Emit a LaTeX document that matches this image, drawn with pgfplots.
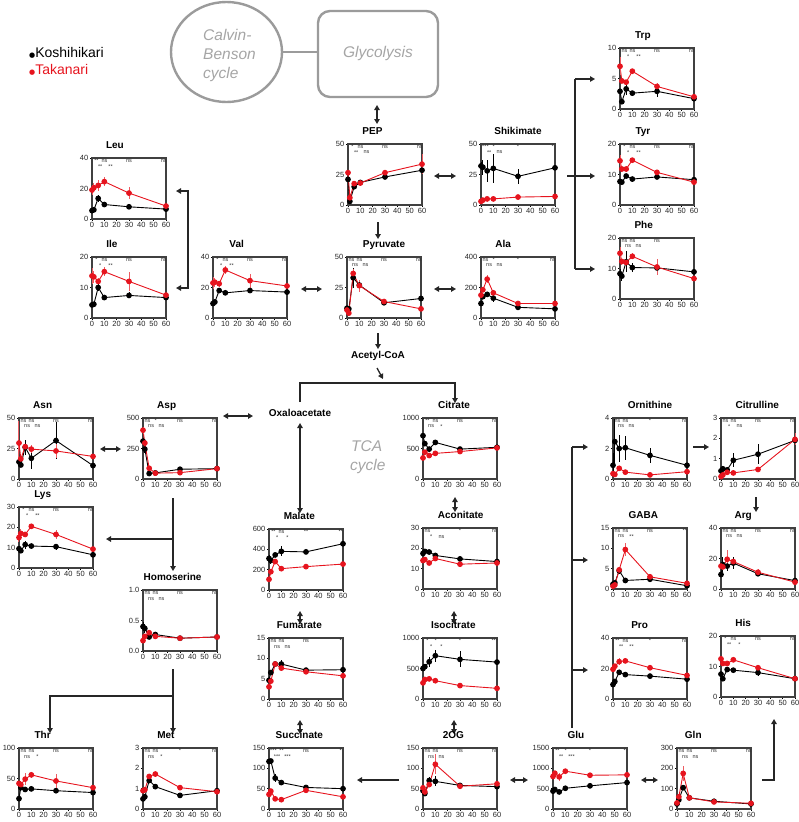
\documentclass[border=0pt]{standalone}
\usepackage{fontspec}
\setmainfont{Liberation Sans}
\newfontfamily\dejavu{DejaVu Sans}
\usepackage{pgfplots}
\usepackage{pgfplotstable}
\pgfplotsset{compat=1.18}
\usetikzlibrary{arrows.meta}

\definecolor{takared}{RGB}{230,20,30}
\definecolor{dgray}{RGB}{155,155,155}
\definecolor{tgray}{RGB}{165,165,165}

% time points (min): 0, 1.5, 5, 10, 30, 60 ; k = Koshihikari, r = Takanari
\pgfplotstableread{
t k ke r re
0 5.5 0.5 19 3
1.5 6 0.5 20.5 3
5 13.5 2.5 22 3.5
10 9.5 0.8 24.5 3
30 8 0.8 17 4
60 6.5 0.5 8.5 1
}\tLeu
\pgfplotstableread{
t k ke r re
0 4.3 0.3 13.8 2.5
1.5 4.5 0.3 13.5 2
5 10 1 12 1
10 6.7 0.4 15.2 1.5
30 7.4 1 12 3
60 6.7 0.4 7.5 0.6
}\tIle
\pgfplotstableread{
t k ke r re
0 9.5 0.5 23 4
1.5 10.5 0.5 23.5 3
5 18 1.5 22.5 2
10 16.5 0.5 31.5 2.5
30 18 1 24.5 4.5
60 17 0.5 21 1
}\tVal
\pgfplotstableread{
t k ke r re
0 21 1 26.5 1
1.5 3 1 6 1
5 15 2 17.5 1
10 18.5 1 18 1
30 23 1 26.5 1.5
60 28.5 1 33.5 8
}\tPEP
\pgfplotstableread{
t k ke r re
0 8 1 6.5 1
1.5 7.5 1 4 1
5 33 8 36.5 4
10 27 3 26.5 5
30 12.5 2 13.5 2
60 16 1 7.5 1
}\tPyr
\pgfplotstableread{
t k ke r re
0 32 3 3 0.5
1.5 31 6 4 0.5
5 28 9 5 0.5
10 30 12 5 0.5
30 23.5 6 6.5 0.5
60 30.5 1 7 0.5
}\tShi
\pgfplotstableread{
t k ke r re
0 2.9 0.2 7 1.5
1.5 1.2 0.3 4.6 0.3
5 3.3 1 4.4 0.3
10 2.6 0.2 6.2 0.3
30 2.9 1 3.7 0.6
60 1.7 0.2 2 0.2
}\tTrp
\pgfplotstableread{
t k ke r re
0 7.7 0.5 14.5 2
1.5 7.5 0.5 11.8 1
5 9.5 0.7 11.8 1
10 8.5 0.4 14.7 0.8
30 9.2 0.5 10.7 0.8
60 8.3 0.4 7.5 0.5
}\tTyr
\pgfplotstableread{
t k ke r re
0 8.3 1.5 15 2
1.5 7.5 1.5 12.3 1
5 12.2 3.5 12 1
10 10.3 1.5 14 1
30 10.2 1 10.5 2.5
60 8.9 0.5 6.7 0.4
}\tPhe
\pgfplotstableread{
t k ke r re
0 95 15 150 15
1.5 140 15 185 15
5 155 10 255 25
10 130 25 165 15
30 70 10 95 10
60 60 10 95 10
}\tAla
\pgfplotstableread{
t k ke r re
0 14 2 29.5 18
1.5 11.5 1 16.5 2
5 26 6 26.5 2
10 17 9 24.5 3
30 31.5 15 23 6
60 11 1 18.5 1
}\tAsn
\pgfplotstableread{
t k ke r re
0 310 30 400 30
1.5 245 30 295 30
5 45 5 88 5
10 50 5 48 5
30 80 5 52 5
60 85 5 85 5
}\tAsp
\pgfplotstableread{
t k ke r re
0 9.5 1 15 2
1.5 8.5 1 17 2
5 11.5 2 16.5 1
10 10.8 0.5 20.5 1.2
30 10.5 1.5 16.5 2
60 6.5 0.5 9.3 0.5
}\tLys
\pgfplotstableread{
t k ke r re
0 0.4 0.07 0.17 0.03
1.5 0.37 0.08 0.24 0.03
5 0.23 0.02 0.3 0.04
10 0.27 0.03 0.24 0.02
30 0.21 0.01 0.21 0.02
60 0.23 0.01 0.23 0.01
}\tHse
\pgfplotstableread{
t k ke r re
0 310 30 105 15
1.5 290 30 180 15
5 345 20 280 20
10 380 50 210 10
30 375 20 230 10
60 455 15 255 10
}\tMal
\pgfplotstableread{
t k ke r re
0 4.6 0.3 3 0.3
1.5 6.5 0.5 4.4 0.4
5 8.6 0.8 8.6 0.6
10 8.6 1 7.6 0.6
30 7.1 0.4 6.7 0.6
60 7.2 0.3 5.7 0.3
}\tFum
\pgfplotstableread{
t k ke r re
0 117 5 36 3
1.5 118 5 44 3
5 76 10 25 2
10 65 3 23 2
30 53 3 46 3
60 50 3 30 2
}\tSuc
\pgfplotstableread{
t k ke r re
0 710 40 345 30
1.5 580 40 440 30
5 490 30 385 30
10 600 30 420 20
30 490 30 450 20
60 520 20 510 30
}\tCit
\pgfplotstableread{
t k ke r re
0 17.5 1 14 1
1.5 18.5 1 14.5 1
5 18.2 1 12.8 0.5
10 16.5 0.8 15 1
30 14.8 0.5 12.2 0.5
60 13.5 0.5 12.8 0.5
}\tAco
\pgfplotstableread{
t k ke r re
0 500 20 265 30
1.5 530 20 320 30
5 610 80 330 30
10 710 100 300 30
30 650 130 220 20
60 605 20 175 20
}\tIso
\pgfplotstableread{
t k ke r re
0 45 5 52 5
1.5 38 5 42 5
5 70 8 60 5
10 68 12 110 25
30 58 5 56 5
60 55 3 62 5
}\tOG
\pgfplotstableread{
t k ke r re
0 440 30 800 50
1.5 480 30 880 50
5 420 30 790 100
10 510 20 930 50
30 570 20 830 40
60 650 20 840 30
}\tGlu
\pgfplotstableread{
t k ke r re
0 25 5 30 5
1.5 45 5 60 10
5 105 10 175 35
10 55 5 55 10
30 38 5 35 5
60 25 3 28 3
}\tGln
\pgfplotstableread{
t k ke r re
0 0.9 0.8 0.35 0.1
1.5 2.45 1.5 0.3 0.1
5 2 0.9 0.7 0.1
10 2.05 0.8 0.45 0.05
30 1.55 0.5 0.27 0.05
60 0.9 0.1 0.48 0.05
}\tOrn
\pgfplotstableread{
t k ke r re
0 0.4 0.1 0.12 0.05
1.5 0.5 0.1 0.2 0.05
5 0.45 0.1 0.33 0.05
10 0.92 0.35 0.3 0.05
30 1.22 0.5 0.47 0.05
60 1.9 0.1 1.95 0.3
}\tCtr
\pgfplotstableread{
t k ke r re
0 1.2 0.3 0.7 0.3
1.5 1.5 0.3 1 0.3
5 4.5 0.8 4.7 0.8
10 2.1 0.3 9.7 1.5
30 2.4 0.5 3 0.5
60 0.8 0.2 1.4 0.2
}\tGABA
\pgfplotstableread{
t k ke r re
0 9.5 1 15 2
1.5 16 5 14.5 2
5 15 3 19.5 6
10 17 4 18 2
30 10 1.5 11 2
60 5.5 0.5 4.5 0.5
}\tArg
\pgfplotstableread{
t k ke r re
0 9.5 0.5 19.5 1
1.5 11.5 0.5 21.5 1.5
5 17.5 1 24.5 2.5
10 16 0.5 25 1
30 15 0.5 20.5 1.5
60 13 0.5 15.5 0.5
}\tPro
\pgfplotstableread{
t k ke r re
0 7.5 0.5 12.5 1
1.5 6 0.5 11 0.5
5 9 0.7 11 0.5
10 8.8 0.3 12.2 0.8
30 8 1 9.6 0.8
60 6 0.3 6 0.3
}\tHis
\pgfplotstableread{
t k ke r re
0 17 2 42 4
1.5 35 3 40 6
5 32 3 49 10
10 33 4 56 5
30 30 2 46 12
60 27 2 35 2
}\tThr
\pgfplotstableread{
t k ke r re
0 0.5 0.05 0.9 0.05
1.5 0.6 0.05 0.95 0.05
5 1.4 0.1 1.6 0.1
10 1.1 0.1 1.72 0.1
30 0.67 0.05 1.05 0.05
60 0.9 0.05 0.85 0.05
}\tMet

\tikzset{sig/.style={font=\fontsize{5.5}{5.5}\selectfont, text=black!80, inner sep=0pt}}

\pgfplotsset{
  panel/.style={scale only axis, width=74pt, height=61pt, anchor=north west,
    xmin=0, xmax=60, ymin=0, xtick={0,10,...,60}, clip=false,
    axis line style={line width=1.2pt, black!75},
    tick align=outside, major tick length=2pt, tick style={black, line width=0.6pt},
    xtick pos=bottom, ytick pos=left,
    tick label style={font=\fontsize{7.5}{8}\selectfont, text=black!85},
    xticklabel style={inner sep=1.5pt}, yticklabel style={inner sep=1.5pt},
    scaled y ticks=false,
    /pgf/number format/assume math mode=true, /pgf/number format/1000 sep={},
    title style={font=\bfseries\fontsize{10}{12}\selectfont, anchor=base, inner sep=0pt, yshift=4pt}},
  kstyle/.style={black, line width=0.9pt, mark=*, mark size=2.4pt,
    error bars/.cd, y dir=both, y explicit, error mark=none, error bar style={line width=1pt}},
  tstyle/.style={takared, line width=0.9pt, mark=*, mark size=2.4pt,
    error bars/.cd, y dir=both, y explicit, error mark=none, error bar style={line width=1pt, takared!70}},
}

\newcommand{\sigs}[6]{%
  \node[sig] at (rel axis cs:0.06,0.95) {#1};
  \node[sig] at (rel axis cs:0.11,0.86) {#2};
  \node[sig] at (rel axis cs:0.17,0.95) {#3};
  \node[sig] at (rel axis cs:0.25,0.86) {#4};
  \node[sig] at (rel axis cs:0.5,0.95) {#5};
  \node[sig] at (rel axis cs:0.97,0.95) {#6};
}

% x, y of the axis box (px from top left), title, title position, options, table, significance
\newcommand{\panel}[7]{%
  \begin{axis}[panel, at={(#1pt,-#2pt)}, title={#3}, title style={at={(#4,1)}}, #5]
    \addplot[kstyle] table[x=t, y=k, y error=ke] {#6};
    \addplot[tstyle] table[x=t, y=r, y error=re] {#6};
    \sigs#7
  \end{axis}}

\begin{document}
\begin{tikzpicture}
\path[use as bounding box] (0,0) rectangle (798pt,-822pt);

\begin{scope}[x=1pt, y=-1pt, >={Triangle[length=5pt,width=5.5pt]},
  arr/.style={line width=1.3pt, black!85}]
  % legend
  \node[anchor=base west, inner sep=0pt, font=\fontsize{14}{16}\selectfont] at (29,57)
    {{\dejavu\fontsize{7}{8}\selectfont ●}Koshihikari};
  \node[anchor=base west, inner sep=0pt, font=\fontsize{14}{16}\selectfont, text=takared] at (29,74)
    {{\dejavu\fontsize{7}{8}\selectfont ●}Takanari};
  % Calvin-Benson cycle and glycolysis
  \draw[dgray, line width=2.4pt] (226.5,52) ellipse (55.5pt and 50pt);
  \draw[dgray, line width=2.4pt, rounded corners=12pt] (318,11) rectangle (438,97);
  \draw[dgray, line width=2.4pt] (282,52) -- (318,52);
  \begin{scope}[every node/.style={anchor=base west, inner sep=0pt, text=tgray, font=\itshape\fontsize{15.5}{18}\selectfont}]
    \node at (203,40) {Calvin-};
    \node at (203,59) {Benson};
    \node at (203,78) {cycle};
    \node[anchor=base] at (378,57) {Glycolysis};
    \node at (351,451) {TCA};
    \node at (350,470) {cycle};
  \end{scope}
  \node[font=\bfseries\fontsize{10}{12}\selectfont, inner sep=0pt] at (378,356) {Acetyl-CoA};
  \node[font=\bfseries\fontsize{10}{12}\selectfont, inner sep=0pt] at (300,413) {Oxaloacetate};
  % arrows
  \draw[arr,<->] (377,105) -- (377,124);
  \draw[arr,<->] (434,176) -- (456,176);
  \draw[arr,->] (567,176) -- (595,176);
  \draw[arr] (575,79) -- (575,269);
  \draw[arr,->] (575,79) -- (595,79);
  \draw[arr,->] (575,269) -- (595,269);
  \draw[arr,->] (378,222) -- (378,239);
  \draw[arr,<->] (434,289) -- (456,289);
  \draw[arr,<->] (301,289) -- (322,289);
  \draw[arr,->] (188,288) -- (188,191) -- (176,191);
  \draw[arr,->] (189,288) -- (176,288);
  \draw[arr,->] (378,333) -- (378,349);
  \draw[arr,->] (377,368) -- (383,379);
  \draw[arr,->] (300,402) -- (300,383) -- (455,383) -- (455,403);
  \draw[arr,<->] (223,416) -- (253,416);
  \draw[arr,<->] (300,423) -- (300,513);
  \draw[arr,<->] (100,449) -- (121,449);
  \draw[arr,->] (173,498) -- (173,571);
  \draw[arr,->] (173,539) -- (106,539);
  \draw[arr,<->] (455,497) -- (455,512);
  \draw[arr,<->] (300,611) -- (300,624);
  \draw[arr,<->] (454,611) -- (454,624);
  \draw[arr,<->] (300,720) -- (300,734);
  \draw[arr,<->] (454,720) -- (454,734);
  \draw[arr,->] (399,780) -- (357,780);
  \draw[arr,<->] (510,780) -- (528,780);
  \draw[arr,<->] (641,780) -- (658,780);
  \draw[arr,->] (762,780) -- (774,780) -- (774,719);
  \draw[arr] (572,728) -- (572,447);
  \draw[arr,->] (572,447) -- (588,447);
  \draw[arr,->] (572,560) -- (588,560);
  \draw[arr,->] (572,670) -- (588,670);
  \draw[arr,->] (693,447) -- (709,447);
  \draw[arr,->] (756,497) -- (756,512);
  \draw[arr,->] (173,669) -- (173,733);
  \draw[arr,->] (173,696) -- (50,696) -- (50,733);
\end{scope}

\panel{92}{158}{Leu}{0.31}{ymax=40, ytick={0,20,40}}{\tLeu}{{**}{**}{ns}{**}{ns}{ns}}
\panel{92}{257}{Ile}{0.27}{ymax=20, ytick={0,10,20}}{\tIle}{{*}{*}{ns}{**}{ns}{ns}}
\panel{213}{257}{Val}{0.32}{ymax=40, ytick={0,20,40}}{\tVal}{{*}{*}{ns}{**}{ns}{ns}}
\panel{348}{144}{PEP}{0.33}{ymax=50, ytick={0,25,50}}{\tPEP}{{*}{**}{ns}{ns}{ns}{ns}}
\panel{347}{257}{Pyruvate}{0.5}{ymax=50, ytick={0,25,50}}{\tPyr}{{ns}{ns}{ns}{ns}{ns}{ns}}
\panel{481}{144}{Shikimate}{0.5}{ymax=50, ytick={0,25,50}}{\tShi}{{***}{**}{*}{ns}{*}{*}}
\panel{481}{257}{Ala}{0.3}{ymax=400, ytick={0,200,400}}{\tAla}{{ns}{ns}{*}{ns}{*}{ns}}
\panel{620}{48}{Trp}{0.31}{ymax=10, ytick={0,5,10}}{\tTrp}{{ns}{*}{ns}{**}{ns}{ns}}
\panel{620}{144}{Tyr}{0.31}{ymax=20, ytick={0,10,20}}{\tTyr}{{*}{*}{ns}{**}{ns}{ns}}
\panel{620}{238}{Phe}{0.32}{ymax=20, ytick={0,10,20}}{\tPhe}{{ns}{ns}{ns}{ns}{ns}{}}
\panel{19}{418}{Asn}{0.32}{ymax=50, ytick={0,25,50}}{\tAsn}{{ns}{ns}{ns}{ns}{ns}{ns}}
\panel{143}{418}{Asp}{0.32}{ymax=500, ytick={0,250,500}}{\tAsp}{{ns}{ns}{*}{ns}{ns}{ns}}
\panel{19}{507}{Lys}{0.32}{ymax=30, ytick={0,10,20,30}}{\tLys}{{*}{*}{ns}{**}{ns}{ns}}
\panel{143}{590}{Homoserine}{0.4}{ymax=1, ytick={0,0.5,1},
  yticklabel style={/pgf/number format/.cd, fixed, fixed zerofill, precision=1}}{\tHse}{{ns}{ns}{ns}{ns}{ns}{ns}}
\panel{19}{748}{Thr}{0.32}{ymax=100, ytick={0,50,100}}{\tThr}{{ns}{ns}{ns}{*}{ns}{ns}}
\panel{143}{748}{Met}{0.31}{ymax=3, ytick={0,1,2,3}}{\tMet}{{ns}{ns}{ns}{*}{*}{ns}}
\panel{269}{529}{Malate}{0.41}{ymax=600, ytick={0,200,400,600}}{\tMal}{{**}{*}{ns}{*}{**}{**}}
\panel{269}{638}{Fumarate}{0.41}{ymax=15, ytick={0,5,10,15}}{\tFum}{{ns}{ns}{ns}{ns}{ns}{*}}
\panel{269}{748}{Succinate}{0.41}{ymax=150, ytick={0,50,100,150}}{\tSuc}{{***}{***}{**}{***}{ns}{*}}
\panel{423}{418}{Citrate}{0.42}{ymax=1000, ytick={0,500,1000}}{\tCit}{{**}{ns}{ns}{*}{ns}{ns}}
\panel{423}{528}{Aconitate}{0.51}{ymax=30, ytick={0,10,20,30}}{\tAco}{{ns}{*}{}{ns}{*}{ns}}
\panel{423}{638}{Isocitrate}{0.41}{ymax=1000, ytick={0,500,1000}}{\tIso}{{*}{*}{*}{*}{*}{***}}
\panel{423}{748}{2OG}{0.41}{ymax=150, ytick={0,50,100,150}}{\tOG}{{ns}{ns}{ns}{ns}{ns}{ns}}
\panel{553}{748}{Glu}{0.31}{ymax=1500, ytick={0,500,1000,1500}}{\tGlu}{{**}{**}{*}{***}{*}{*}}
\panel{677}{748}{Gln}{0.22}{ymax=300, ytick={0,100,200,300}}{\tGln}{{ns}{ns}{ns}{ns}{ns}{ns}}
\panel{613}{418}{Ornithine}{0.5}{ymax=4, ytick={0,2,4}}{\tOrn}{{ns}{ns}{ns}{ns}{*}{ns}}
\panel{721}{418}{Citrulline}{0.49}{ymax=3, ytick={0,1,2,3}}{\tCtr}{{ns}{*}{ns}{ns}{ns}{ns}}
\panel{613}{528}{GABA}{0.41}{ymax=15, ytick={0,5,10,15}}{\tGABA}{{ns}{ns}{ns}{**}{ns}{**}}
\panel{721}{528}{Arg}{0.3}{ymax=40, ytick={0,20,40}}{\tArg}{{ns}{ns}{ns}{ns}{ns}{ns}}
\panel{613}{638}{Pro}{0.36}{ymax=40, ytick={0,20,40}}{\tPro}{{**}{**}{ns}{**}{*}{ns}}
\panel{721}{636}{His}{0.3}{ymax=20, ytick={0,10,20}}{\tHis}{{*}{**}{ns}{*}{ns}{ns}}
\end{tikzpicture}
\end{document}
